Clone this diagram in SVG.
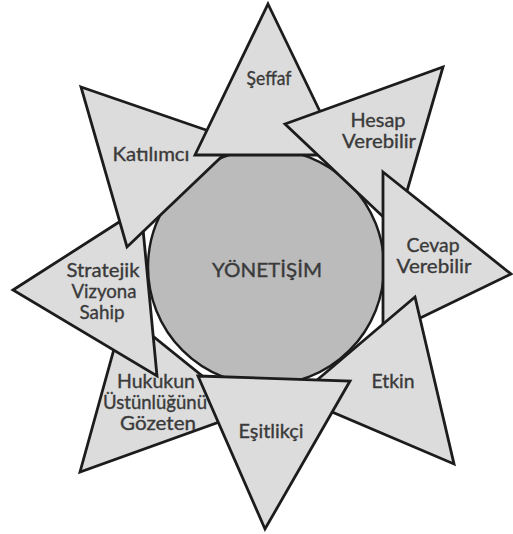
<svg xmlns="http://www.w3.org/2000/svg" width="513" height="534" viewBox="0 0 513 534">
<style>
.tri{fill:#dcdcdc;stroke:#1c1c1c;stroke-width:2.8;stroke-linejoin:miter}
.hub{fill:#bbbbbb;stroke:#1c1c1c;stroke-width:2.4}
.lbl{font-family:Lato,"Liberation Sans",sans-serif;font-size:19px;fill:#3a3a3a;stroke:#3a3a3a;stroke-width:0.35;text-anchor:middle}
</style>
<rect width="513" height="534" fill="#ffffff"/>
<g id="connectors"/>
<g id="yonetisim">
<circle class="hub" cx="266" cy="267" r="118"/>
<text class="lbl" x="267" y="277" textLength="110" lengthAdjust="spacingAndGlyphs">YÖNETİŞİM</text>
</g>
<g id="hukukun">
<polygon class="tri" points="80,472 124,313 247,412"/>
<text class="lbl" x="156" y="388" textLength="78" lengthAdjust="spacingAndGlyphs">Hukukun</text>
<text class="lbl" x="155" y="409" textLength="104" lengthAdjust="spacingAndGlyphs">Üstünlüğünü</text>
<text class="lbl" x="158" y="430" textLength="76" lengthAdjust="spacingAndGlyphs">Gözeten</text>
</g>
<g id="stratejik">
<polygon class="tri" points="13,290 141,208 157,376"/>
<text class="lbl" x="103" y="277" textLength="73" lengthAdjust="spacingAndGlyphs">Stratejik</text>
<text class="lbl" x="104" y="298" textLength="65" lengthAdjust="spacingAndGlyphs">Vizyona</text>
<text class="lbl" x="102" y="319" textLength="45" lengthAdjust="spacingAndGlyphs">Sahip</text>
</g>
<g id="katilimci">
<polygon class="tri" points="81,87 238,141 127,247"/>
<text class="lbl" x="151" y="161" textLength="77" lengthAdjust="spacingAndGlyphs">Katılımcı</text>
</g>
<g id="seffaf">
<polygon class="tri" points="268,4 341,155 195,155"/>
<text class="lbl" x="269" y="85" textLength="45" lengthAdjust="spacingAndGlyphs">Şeffaf</text>
</g>
<g id="hesap">
<polygon class="tri" points="285,124 443,67 396,229"/>
<text class="lbl" x="378" y="127" textLength="55" lengthAdjust="spacingAndGlyphs">Hesap</text>
<text class="lbl" x="379" y="148" textLength="74" lengthAdjust="spacingAndGlyphs">Verebilir</text>
</g>
<g id="cevap">
<polygon class="tri" points="383,172 511,274 383,336"/>
<text class="lbl" x="433" y="252" textLength="53" lengthAdjust="spacingAndGlyphs">Cevap</text>
<text class="lbl" x="434" y="273" textLength="75" lengthAdjust="spacingAndGlyphs">Verebilir</text>
</g>
<g id="etkin">
<polygon class="tri" points="415,297 454,464 297,397"/>
<text class="lbl" x="393" y="388" textLength="43" lengthAdjust="spacingAndGlyphs">Etkin</text>
</g>
<g id="esitlikci">
<polygon class="tri" points="198,376 350,381 265,529"/>
<text class="lbl" x="271" y="438" textLength="65" lengthAdjust="spacingAndGlyphs">Eşitlikçi</text>
</g>
</svg>
